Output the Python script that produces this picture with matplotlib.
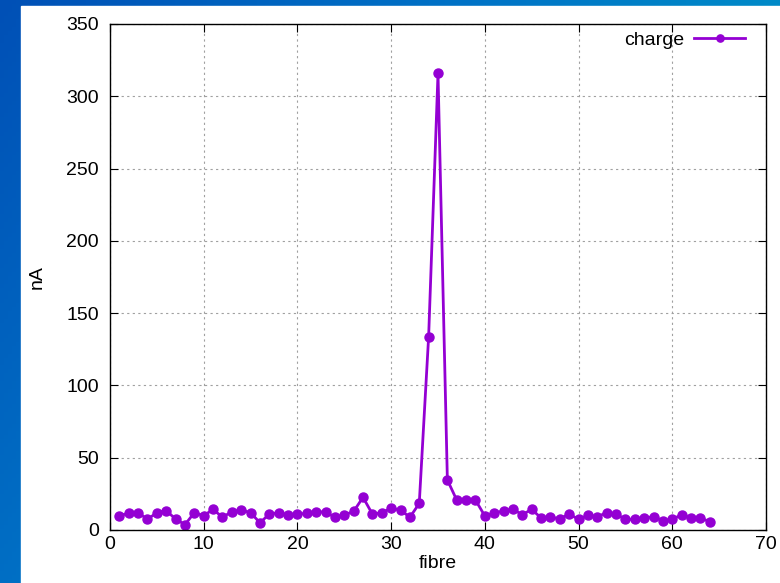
import numpy as np
import matplotlib
matplotlib.use("Agg")
import matplotlib.pyplot as plt
from matplotlib.colors import LinearSegmentedColormap

plt.rcParams['font.family'] = ['Liberation Sans', 'DejaVu Sans']

fibre = list(range(1, 65))
charge = [10, 11.5, 12, 7.4, 12, 13.4, 7.6, 3.7, 12, 9.9,
          14.3, 8.8, 12.7, 13.8, 12, 5, 11, 12, 10.4, 11,
          11.5, 12.7, 12.4, 8.8, 10.4, 12.9, 22.6, 11, 12, 15,
          13.8, 8.8, 18.4, 133.7, 315.8, 34.6, 20.7, 20.7, 20.7, 9.7,
          11.5, 13.4, 14.3, 10.6, 14.3, 8.3, 8.8, 7.8, 11, 7.4,
          10.1, 9.2, 12, 11, 7.4, 7.4, 8.3, 9.2, 6.5, 7.4,
          10.6, 8.3, 8.3, 5.8]

fig = plt.figure(figsize=(7.8, 5.83), dpi=100)

# blue gradient frame behind the white page
bg = fig.add_axes([0, 0, 1, 1], zorder=-10)
gx, gy = np.meshgrid(np.linspace(0, 1, 200), np.linspace(0, 1, 150))
grad = np.clip(0.85 * gx + 0.45 * gy, 0, 1)
cmap = LinearSegmentedColormap.from_list("bluebg", ["#0050b6", "#0072c6", "#0094c8"])
bg.imshow(grad, cmap=cmap, aspect='auto', extent=[0, 1, 0, 1], origin='upper')
bg.add_patch(plt.Rectangle((21 / 780, 0), 1, 1 - 6 / 583, color='white'))
bg.set_xlim(0, 1)
bg.set_ylim(0, 1)
bg.axis('off')

ax = fig.add_axes([110 / 780, 1 - 530 / 583, 656 / 780, 506 / 583])
ax.set_facecolor('none')
ax.plot(fibre, charge, color='#9400d3', lw=2, marker='o', ms=6.5,
        label='charge')
ax.set_xlim(0, 70)
ax.set_ylim(0, 350)
ax.set_xticks(range(0, 71, 10))
ax.set_yticks(range(0, 351, 50))
ax.grid(True, color='#a0a0a0', linestyle=(0, (2, 3)), lw=0.8)
ax.tick_params(direction='in', top=True, right=True, length=6,
               labelsize=14)
ax.tick_params(axis='x', pad=4)
ax.tick_params(axis='y', pad=8)
for s in ax.spines.values():
    s.set_linewidth(1.0)
ax.set_xlabel('fibre', fontsize=14, labelpad=2)
ax.set_ylabel('nA', fontsize=14, labelpad=15)
ax.legend(loc='upper right', bbox_to_anchor=(0.968, 0.986), frameon=False,
          fontsize=14, markerfirst=False, handlelength=2.6,
          handletextpad=0.5, borderpad=0, borderaxespad=0, markerscale=0.8)

fig.savefig('out.png', dpi=100)
